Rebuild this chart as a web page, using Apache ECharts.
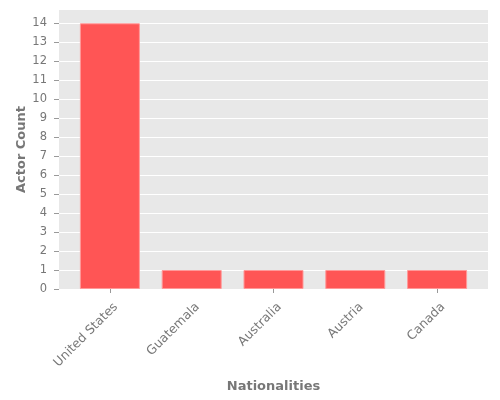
<!DOCTYPE html>
<html>
<head>
<meta charset="utf-8">
<script src="https://cdn.jsdelivr.net/npm/echarts@6/dist/echarts.min.js"></script>
<style>
  html, body { margin: 0; padding: 0; background: #fff; }
  #main { width: 500px; height: 400px; }
</style>
</head>
<body>
<div id="main"></div>
<script>
var nationalities = ['United States', 'Guatemala', 'Australia', 'Austria', 'Canada'];
var actorCounts = [14, 1, 1, 1, 1];
var yTicks = [0, 1, 2, 3, 4, 5, 6, 7, 8, 9, 10, 11, 12, 13, 14];

var chart = echarts.init(document.getElementById('main'), null, { renderer: 'canvas' });

var textColor = '#777';
var font = 'DejaVu Sans';

var option = {
  animation: false,
  textStyle: { fontFamily: font },
  grid: [
    // background + gridlines
    { left: 59, right: 12, top: 10, bottom: 111, show: true, backgroundColor: '#e8e8e8', borderWidth: 0, outerBoundsMode: 'none' },
    // bars
    { left: 69, right: 22, top: 10, bottom: 111, outerBoundsMode: 'none' },
    // x tick labels, nudged right like the original
    { left: 75, right: 16, top: 10, bottom: 111, outerBoundsMode: 'none' }
  ],
  xAxis: [
    { gridIndex: 0, type: 'value', min: 0, max: 1, show: false },
    {
      gridIndex: 1,
      type: 'category',
      data: nationalities,
      name: 'Nationalities',
      nameLocation: 'middle',
      nameGap: 91,
      nameMoveOverlap: false,
      nameTextStyle: { fontSize: 13, fontWeight: 'bold', color: textColor, fontFamily: font },
      axisLine: { show: false },
      axisTick: { show: true, alignWithLabel: true, length: 4, lineStyle: { color: '#999' } },
      axisLabel: { show: false },
      splitLine: { show: false }
    },
    {
      gridIndex: 2,
      type: 'category',
      data: nationalities,
      axisLine: { show: false },
      axisTick: { show: false },
      axisLabel: { rotate: 45, fontSize: 12.5, color: textColor, margin: 16, interval: 0, fontFamily: font },
      splitLine: { show: false }
    }
  ],
  yAxis: [
    {
      gridIndex: 0,
      type: 'value',
      min: 0,
      max: 14.7,
      interval: 1,
      name: 'Actor Count',
      nameLocation: 'middle',
      nameGap: 31,
      nameMoveOverlap: false,
      nameTextStyle: { fontSize: 13, fontWeight: 'bold', color: textColor, fontFamily: font },
      axisLine: { show: false },
      axisTick: { show: true, length: 5, customValues: yTicks, lineStyle: { color: '#999' } },
      axisLabel: { fontSize: 11.5, color: textColor, margin: 12, fontFamily: font, customValues: yTicks },
      splitLine: { show: true, lineStyle: { color: '#fff', width: 1 } }
    },
    { gridIndex: 1, type: 'value', min: 0, max: 14.7, show: false },
    { gridIndex: 2, type: 'value', min: 0, max: 14.7, show: false }
  ],
  series: [
    {
      type: 'bar',
      xAxisIndex: 1,
      yAxisIndex: 1,
      data: actorCounts,
      barWidth: 60,
      itemStyle: { color: '#ff5555', borderColor: '#ff9999', borderWidth: 1 }
    }
  ]
};

chart.setOption(option);
</script>
</body>
</html>
